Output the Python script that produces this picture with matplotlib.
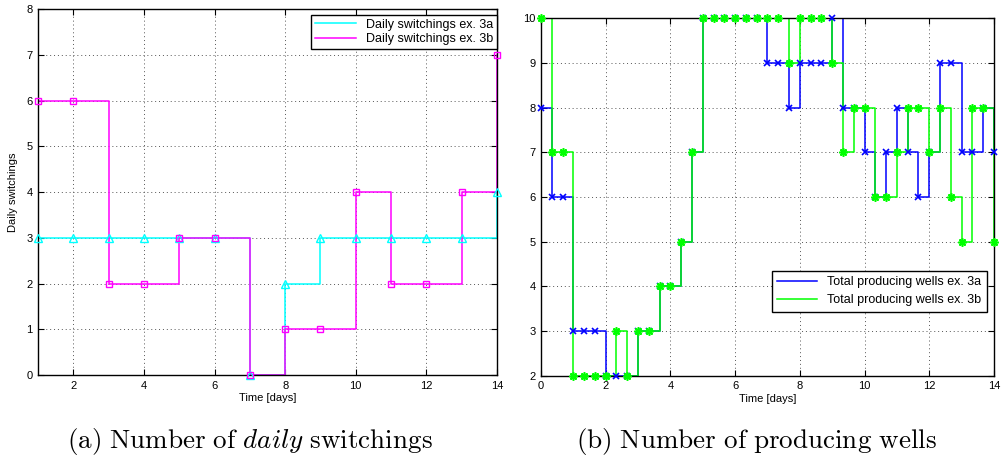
import matplotlib
matplotlib.use("Agg")
import matplotlib.pyplot as plt
import numpy as np
from matplotlib.lines import Line2D

plt.rcParams['font.family'] = ['Liberation Sans', 'DejaVu Sans']
plt.rcParams['mathtext.fontset'] = 'cm'

# ---- data: left panel (daily switchings) ----
days = [1, 2, 3, 4, 5, 6, 7, 8, 9, 10, 11, 12, 13, 14]
switch_3a = [3, 3, 3, 3, 3, 3, 0, 2, 3, 3, 3, 3, 3, 4]
switch_3b = [6, 6, 2, 2, 3, 3, 0, 1, 1, 4, 2, 2, 4, 7]

# ---- data: right panel (producing wells, every 1/3 day) ----
n_steps = 43
time_thirds = [k / 3 for k in range(n_steps)]
wells_3a = [8, 6, 6, 3, 3, 3, 2, 2, 2, 3, 3, 4, 4, 5, 7, 10, 10, 10, 10, 10, 10,
            9, 9, 8, 9, 9, 9, 10, 8, 8, 7, 6, 7, 8, 7, 6, 7, 9, 9, 7, 7, 8, 7]
wells_3b = [10, 7, 7, 2, 2, 2, 2, 3, 2, 3, 3, 4, 4, 5, 7, 10, 10, 10, 10, 10, 10,
            10, 10, 9, 10, 10, 10, 9, 7, 8, 8, 6, 6, 7, 8, 8, 7, 8, 6, 5, 8, 8, 5]

left_labels = ['Daily switchings ex. 3a', 'Daily switchings ex. 3b']
right_labels = ['Total producing wells ex. 3a', 'Total producing wells ex. 3b']

fig = plt.figure(figsize=(10.05, 4.58), dpi=100)
axL = fig.add_axes([0.0378, 0.1812, 0.4567, 0.7985])
axR = fig.add_axes([0.5383, 0.1797, 0.4507, 0.7803])

def style(ax):
    ax.grid(True, linestyle=(0, (1, 3)), color='#555555', linewidth=0.7)
    ax.tick_params(direction='in', top=True, right=True, labelsize=8,
                   length=4, width=0.8, colors='black', pad=4)
    for s in ax.spines.values():
        s.set_linewidth(1.0)

cyan = (0.0, 1.0, 1.0)
mag = (1.0, 0.0, 1.0)
axL.step(days, switch_3a, where='post', color=cyan, lw=1.1)
axL.plot(days, switch_3a, ls='none', marker='^', ms=6, mfc='none', mec=cyan, mew=1.0,
         clip_on=False, zorder=3)
axL.step(days, switch_3b, where='post', color=mag, lw=1.1)
axL.plot(days, switch_3b, ls='none', marker='s', ms=5, mfc='none', mec=mag, mew=1.0,
         clip_on=False, zorder=3)
axL.set_xlim(1, 14)
axL.set_ylim(0, 8)
axL.set_xticks([2, 4, 6, 8, 10, 12, 14])
axL.set_yticks(range(0, 9))
style(axL)
axL.set_xlabel('Time [days]', fontsize=8, labelpad=2)
axL.set_ylabel('Daily switchings', fontsize=8, labelpad=6)
hL = [Line2D([], [], color=cyan, lw=1.1), Line2D([], [], color=mag, lw=1.1)]
legL = axL.legend(hL, left_labels, loc='upper right', bbox_to_anchor=(1.0, 0.985),
                  fontsize=9, fancybox=False, framealpha=1, edgecolor='black',
                  borderpad=0.3, handlelength=3.3, labelspacing=0.2, borderaxespad=0)
legL.get_frame().set_linewidth(1.0)
legL.set_zorder(5)

blue = (0.0, 0.0, 1.0)
green = (0.0, 1.0, 0.0)
axR.step(time_thirds, wells_3a, where='post', color=blue, lw=1.1)
axR.plot(time_thirds, wells_3a, ls='none', marker='x', ms=4, mec=blue, mew=1.2,
         clip_on=False, zorder=3)
axR.step(time_thirds, wells_3b, where='post', color=green, lw=1.1)
axR.plot(time_thirds, wells_3b, ls='none', marker=(8, 2, 0), ms=6, mec=green, mew=1.2,
         clip_on=False, zorder=3)
axR.set_xlim(0, 14)
axR.set_ylim(2, 10)
axR.set_xticks([0, 2, 4, 6, 8, 10, 12, 14])
axR.set_yticks(range(2, 11))
style(axR)
axR.set_xlabel('Time [days]', fontsize=8, labelpad=2)
hR = [Line2D([], [], color=blue, lw=1.1), Line2D([], [], color=green, lw=1.1)]
legR = axR.legend(hR, right_labels, loc='lower right', bbox_to_anchor=(0.985, 0.178),
                  fontsize=9, fancybox=False, framealpha=1, edgecolor='black',
                  borderpad=0.45, handlelength=3.2, labelspacing=0.5, borderaxespad=0)
legR.get_frame().set_linewidth(1.0)
legR.set_zorder(5)

fig.text(0.249, 0.035, r'$\mathrm{(a)\ Number\ of\ }\mathit{daily}\mathrm{\ switchings}$',
         ha='center', va='center', fontsize=19.5)
fig.text(0.753, 0.035, r'$\mathrm{(b)\ Number\ of\ producing\ wells}$',
         ha='center', va='center', fontsize=19.5)

fig.savefig('out.png', dpi=100)
